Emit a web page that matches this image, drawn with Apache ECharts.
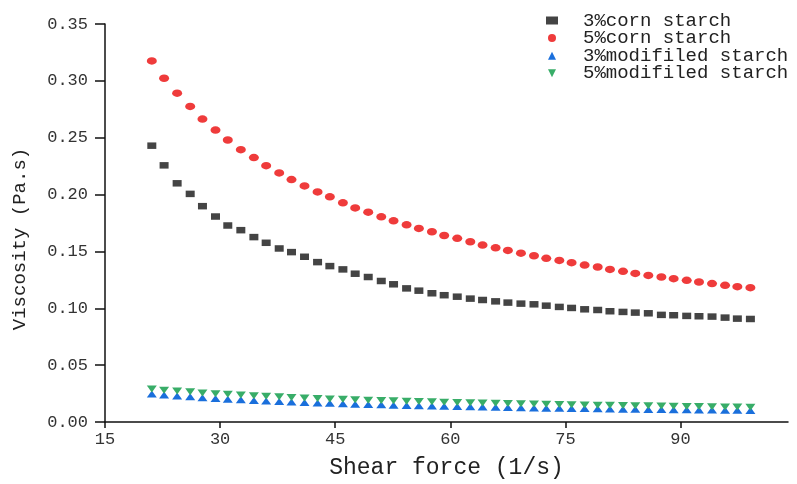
<!DOCTYPE html>
<html>
<head>
<meta charset="utf-8">
<style>html,body{margin:0;padding:0;background:#fff}#c{width:797px;height:484px}</style>
<script src="https://cdn.jsdelivr.net/npm/echarts@6/dist/echarts.min.js"></script>
</head>
<body>
<div id="c"></div>
<script>
const shearRate = [21.1,22.7,24.4,26.1,27.7,29.4,31.0,32.7,34.4,36.0,37.7,39.3,41.0,42.7,44.3,46.0,47.6,49.3,51.0,52.6,54.3,55.9,57.6,59.2,60.9,62.6,64.2,65.9,67.5,69.2,70.9,72.5,74.2,75.8,77.5,79.2,80.8,82.5,84.1,85.8,87.5,89.1,90.8,92.4,94.1,95.8,97.4,99.1];
const corn3 = [0.2430,0.2257,0.2099,0.2006,0.1898,0.1807,0.1728,0.1687,0.1626,0.1576,0.1526,0.1494,0.1453,0.1406,0.1371,0.1342,0.1304,0.1275,0.1240,0.1211,0.1175,0.1155,0.1132,0.1115,0.1102,0.1085,0.1073,0.1061,0.1050,0.1041,0.1035,0.1023,0.1012,0.1003,0.0991,0.0985,0.0974,0.0968,0.0962,0.0956,0.0942,0.0939,0.0933,0.0930,0.0927,0.0918,0.0909,0.0906];
const corn5 = [0.3175,0.3023,0.2892,0.2775,0.2664,0.2567,0.2480,0.2395,0.2325,0.2254,0.2190,0.2132,0.2076,0.2023,0.1980,0.1927,0.1883,0.1845,0.1804,0.1769,0.1734,0.1702,0.1673,0.1640,0.1615,0.1585,0.1556,0.1532,0.1509,0.1485,0.1462,0.1439,0.1421,0.1401,0.1380,0.1363,0.1342,0.1325,0.1307,0.1289,0.1275,0.1260,0.1246,0.1231,0.1217,0.1202,0.1190,0.1181];
const mod3 = [0.0246,0.0237,0.0229,0.0222,0.0214,0.0207,0.0201,0.0195,0.0190,0.0185,0.0180,0.0176,0.0172,0.0168,0.0164,0.0160,0.0157,0.0154,0.0151,0.0148,0.0145,0.0143,0.0140,0.0138,0.0136,0.0134,0.0132,0.0130,0.0128,0.0126,0.0124,0.0122,0.0121,0.0119,0.0118,0.0116,0.0115,0.0113,0.0112,0.0111,0.0110,0.0108,0.0107,0.0106,0.0105,0.0104,0.0103,0.0102];
const mod5 = [0.0290,0.0280,0.0272,0.0265,0.0256,0.0249,0.0243,0.0237,0.0231,0.0226,0.0221,0.0216,0.0212,0.0207,0.0203,0.0199,0.0196,0.0192,0.0189,0.0186,0.0183,0.0180,0.0177,0.0174,0.0172,0.0169,0.0167,0.0164,0.0162,0.0160,0.0158,0.0156,0.0154,0.0152,0.0150,0.0148,0.0147,0.0145,0.0143,0.0142,0.0140,0.0139,0.0137,0.0136,0.0134,0.0133,0.0131,0.0130];
const seriesNames = ['3%corn starch','5%corn starch','3%modifiled starch','5%modifiled starch'];
const xTicks = [15,30,45,60,75,90];

const FONT = 'Liberation Mono';
const ellipse = 'path://M0,50A50,50 0 1,1 100,50A50,50 0 1,1 0,50Z';
const downTri = 'path://M0,0L100,0L50,100Z';
const upTri = 'path://M50,0L100,100L0,100Z';
function pts(ys){ return shearRate.map((x,i)=>[x, ys[i]]); }

const chart = echarts.init(document.getElementById('c'), null, {renderer:'canvas'});
chart.setOption({
  animation:false,
  backgroundColor:'#fff',
  grid:{left:105, right:9, top:24, bottom:61, containLabel:false},
  legend:{
    orient:'vertical', left:541, top:6, itemGap:-1.4,
    itemWidth:12, itemHeight:8,
    textStyle:{fontFamily:FONT, fontSize:19, color:'#222', lineHeight:17.5, padding:[0,0,0,20]},
    data:[
      {name:seriesNames[0], icon:'rect'},
      {name:seriesNames[1], icon:ellipse},
      {name:seriesNames[2], icon:upTri},
      {name:seriesNames[3], icon:downTri}
    ]
  },
  xAxis:{
    type:'value', min:15, max:104,
    name:'Shear force (1/s)', nameLocation:'middle', nameGap:34,
    nameTextStyle:{fontFamily:FONT, fontSize:23, color:'#222'},
    axisLine:{onZero:false, lineStyle:{color:'#111', width:1.5}},
    axisTick:{show:true, length:6, customValues:xTicks, lineStyle:{color:'#111', width:1.5}},
    axisLabel:{customValues:xTicks, fontFamily:FONT, fontSize:17, color:'#333', margin:9},
    splitLine:{show:false}
  },
  yAxis:{
    type:'value', min:0, max:0.35, interval:0.05,
    name:'Viscosity (Pa.s)', nameLocation:'middle', nameGap:76,
    nameTextStyle:{fontFamily:FONT, fontSize:19, color:'#222', padding:[0,32,0,0]},
    axisLine:{show:true, onZero:false, lineStyle:{color:'#111', width:1.5}},
    axisTick:{show:true, length:10, lineStyle:{color:'#111', width:1.5}},
    axisLabel:{fontFamily:FONT, fontSize:17, color:'#333', margin:17, formatter:v=>v.toFixed(2)},
    splitLine:{show:false}
  },
  series:[
    {name:seriesNames[0], type:'scatter', data:pts(corn3), symbol:'rect', symbolSize:[9,6.5], itemStyle:{color:'#444444', opacity:1}},
    {name:seriesNames[1], type:'scatter', data:pts(corn5), symbol:ellipse, symbolSize:[10,7.5], itemStyle:{color:'#ef3b3b', opacity:1}},
    {name:seriesNames[2], type:'scatter', data:pts(mod3), symbol:upTri, symbolSize:[10,7], itemStyle:{color:'#1a6fdc', opacity:1}},
    {name:seriesNames[3], type:'scatter', data:pts(mod5), symbol:downTri, symbolSize:[10,7], itemStyle:{color:'#38ad68', opacity:1}}
  ]
});
</script>
</body>
</html>
